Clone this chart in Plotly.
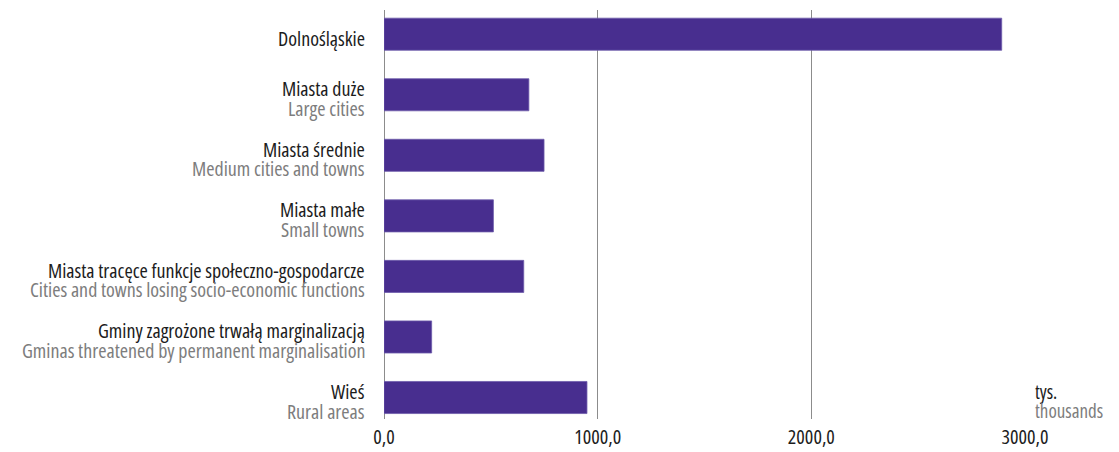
import plotly.graph_objects as go

# categories (Polish / English), top to bottom
labels_pl = [
    "Dolnośląskie",
    "Miasta duże",
    "Miasta średnie",
    "Miasta małe",
    "Miasta tracęce funkcje społeczno-gospodarcze",
    "Gminy zagrożone trwałą marginalizacją",
    "Wieś",
]
labels_en = [
    "",
    "Large cities",
    "Medium cities and towns",
    "Small towns",
    "Cities and towns losing socio-economic functions",
    "Gminas threatened by permanent marginalisation",
    "Rural areas",
]
values = [2891, 678, 749, 512, 654, 223, 950]

tick_vals = [0, 1000, 2000, 3000]
tick_text = ["0,0", "1000,0", "2000,0", "3000,0"]

FONT = "Open Sans, sans-serif"
BLACK = "#1c1c1c"
GREY = "#7d7d7d"
BAR = "#482e8f"


def narrow(s):
    # condensed face of Open Sans, close to the original's condensed type
    return f"<span style='font-stretch:75%'>{s}</span>"


fig = go.Figure(go.Bar(
    x=values, y=labels_pl, orientation="h",
    marker=dict(color=BAR, line=dict(color="#6d5cab", width=0.8)),
    width=0.53, hoverinfo="x+y",
))

annotations = []
for pl, en in zip(labels_pl, labels_en):
    if en:
        annotations.append(dict(x=0, xref="paper", y=pl, yref="y", text=narrow(pl),
                                showarrow=False, xanchor="right", yanchor="middle",
                                xshift=-17, yshift=6,
                                font=dict(family=FONT, size=20, color=BLACK)))
        annotations.append(dict(x=0, xref="paper", y=pl, yref="y", text=narrow(en),
                                showarrow=False, xanchor="right", yanchor="middle",
                                xshift=-17, yshift=-13.5,
                                font=dict(family=FONT, size=20, color=GREY)))
    else:
        annotations.append(dict(x=0, xref="paper", y=pl, yref="y", text=narrow(pl),
                                showarrow=False, xanchor="right", yanchor="middle",
                                xshift=-17, yshift=-4,
                                font=dict(family=FONT, size=20, color=BLACK)))

# unit label next to the last gridline
annotations.append(dict(x=1, xref="paper", y=labels_pl[-1], yref="y", text=narrow("tys."),
                        showarrow=False, xanchor="left", yanchor="middle",
                        xshift=8, yshift=6,
                        font=dict(family=FONT, size=19, color=BLACK)))
annotations.append(dict(x=1, xref="paper", y=labels_pl[-1], yref="y", text=narrow("thousands"),
                        showarrow=False, xanchor="left", yanchor="middle",
                        xshift=8, yshift=-13,
                        font=dict(family=FONT, size=19, color=GREY)))

fig.update_layout(
    width=1119, height=452,
    margin=dict(l=384, r=94, t=10, b=33),
    plot_bgcolor="white", paper_bgcolor="white",
    showlegend=False,
    annotations=annotations,
    xaxis=dict(range=[0, 3000], tickvals=tick_vals,
               ticktext=[narrow(t) for t in tick_text],
               automargin=False, ticklabelstandoff=4,
               showgrid=True, gridcolor="#8c8c8c", gridwidth=1,
               zeroline=True, zerolinecolor="#8c8c8c", zerolinewidth=1,
               showline=False, ticks="",
               tickfont=dict(family=FONT, size=20, color=BLACK)),
    yaxis=dict(categoryorder="array", categoryarray=labels_pl[::-1],
               range=[-0.355, 6.40], automargin=False,
               showticklabels=False, showgrid=False, zeroline=False, ticks=""),
)

fig.write_html("out.html", config={"displayModeBar": False},
               post_script="document.body.style.margin='0';")
